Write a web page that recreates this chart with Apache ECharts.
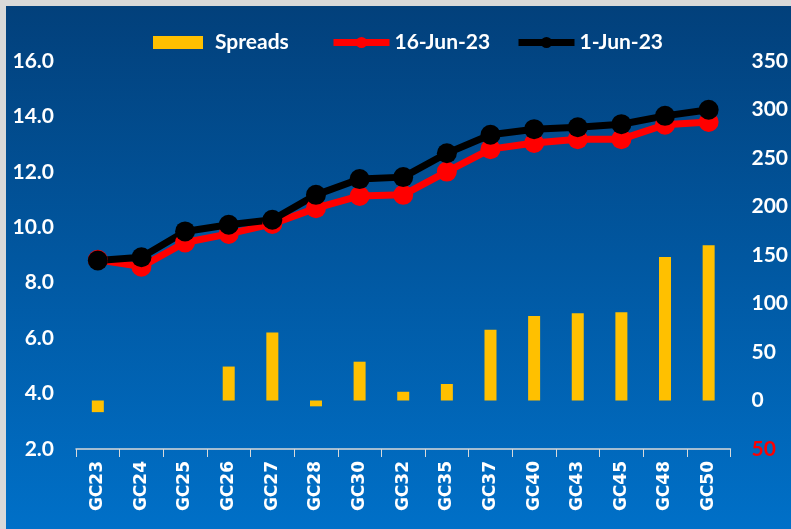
<!DOCTYPE html>
<html>
<head>
<meta charset="utf-8">
<script src="https://cdn.jsdelivr.net/npm/echarts@6/dist/echarts.min.js"></script>
<style>
    html, body { margin:0; padding:0; background:#d9d9d9; }
    #chart { position:absolute; left:6px; top:6px; width:785px; height:523px; }
</style>
</head>
<body>
<div id="chart"></div>
<script>
    var bonds = ['GC23','GC24','GC25','GC26','GC27','GC28','GC30','GC32','GC35','GC37','GC40','GC43','GC45','GC48','GC50'];
    // spreads in bps (right axis)
    var spreads = [-12, 0, 0, 35, 70, -6, 40, 9, 17, 73, 87, 90, 91, 148, 160];
    // yields in % (left axis)
    var jun16 = [8.83, 8.58, 9.45, 9.76, 10.12, 10.69, 11.13, 11.17, 12.01, 12.82, 13.04, 13.18, 13.18, 13.70, 13.80];
    var jun01 = [8.80, 8.92, 9.85, 10.09, 10.27, 11.17, 11.74, 11.81, 12.67, 13.34, 13.54, 13.61, 13.72, 14.02, 14.24];

    var chart = echarts.init(document.getElementById('chart'));

    var legendText = {color: '#fff', fontSize: 21, fontWeight: 'bold', fontFamily: 'Lato'};

    var option = {
        backgroundColor: {
            type: 'linear', x: 0, y: 0, x2: 0, y2: 1,
            colorStops: [
                {offset: 0, color: '#02407b'},
                {offset: 1, color: '#0070c8'}
            ]
        },
        textStyle: {fontFamily: 'Lato', fontWeight: 'bold'},
        // one legend per item so each sits where the original has it
        legend: [
            {
                left: 147, top: 26, padding: 0,
                itemWidth: 50, itemHeight: 13,
                textStyle: Object.assign({padding: [0, 0, 0, 7]}, legendText),
                data: [{name: 'Spreads', icon: 'rect'}]
            },
            {
                left: 324, top: 26, padding: 0,
                itemWidth: 56, itemHeight: 14,
                textStyle: legendText,
                data: [{name: '16-Jun-23', lineStyle: {width: 7}}]
            },
            {
                left: 509, top: 26, padding: 0,
                itemWidth: 56, itemHeight: 14,
                textStyle: legendText,
                data: [{name: '1-Jun-23', lineStyle: {width: 7}}]
            }
        ],
        grid: {left: 70, right: 55, top: 55, bottom: 80},
        xAxis: {
            type: 'category',
            data: bonds,
            axisLine: {onZero: false, lineStyle: {color: '#d9d9d9', width: 1.5}},
            axisTick: {show: true, length: 8, lineStyle: {color: '#d9d9d9'}},
            axisLabel: {
                rotate: 90, color: '#fff', fontSize: 17, fontWeight: 'bold',
                fontFamily: 'DejaVu Sans', margin: 12
            }
        },
        yAxis: [
            {
                type: 'value', min: 2, max: 16, interval: 2,
                axisLine: {show: false}, axisTick: {show: false}, splitLine: {show: false},
                axisLabel: {
                    color: '#fff', fontSize: 21, fontWeight: 'bold', fontFamily: 'Lato', margin: 22,
                    formatter: function (v) { return v.toFixed(1); }
                }
            },
            {
                type: 'value', min: -50, max: 350, interval: 50,
                axisLine: {show: false}, axisTick: {show: false}, splitLine: {show: false},
                axisLabel: {
                    color: '#fff', fontSize: 21, fontWeight: 'bold', fontFamily: 'Lato', margin: 21,
                    formatter: function (v) { return v < 0 ? '{neg|' + Math.abs(v) + '}' : String(v); },
                    rich: {neg: {color: '#ff0000', fontSize: 21, fontWeight: 'bold', fontFamily: 'Lato'}}
                }
            }
        ],
        series: [
            {
                name: 'Spreads',
                type: 'bar',
                yAxisIndex: 1,
                data: spreads,
                barWidth: 12,
                itemStyle: {color: '#ffc000'}
            },
            {
                name: '16-Jun-23',
                type: 'line',
                data: jun16,
                symbol: 'circle',
                symbolSize: 20,
                lineStyle: {color: '#ff0000', width: 7},
                itemStyle: {color: '#ff0000'}
            },
            {
                name: '1-Jun-23',
                type: 'line',
                data: jun01,
                symbol: 'circle',
                symbolSize: 20,
                lineStyle: {color: '#000000', width: 7},
                itemStyle: {color: '#000000'}
            }
        ]
    };

    chart.setOption(option);
</script>
</body>
</html>
